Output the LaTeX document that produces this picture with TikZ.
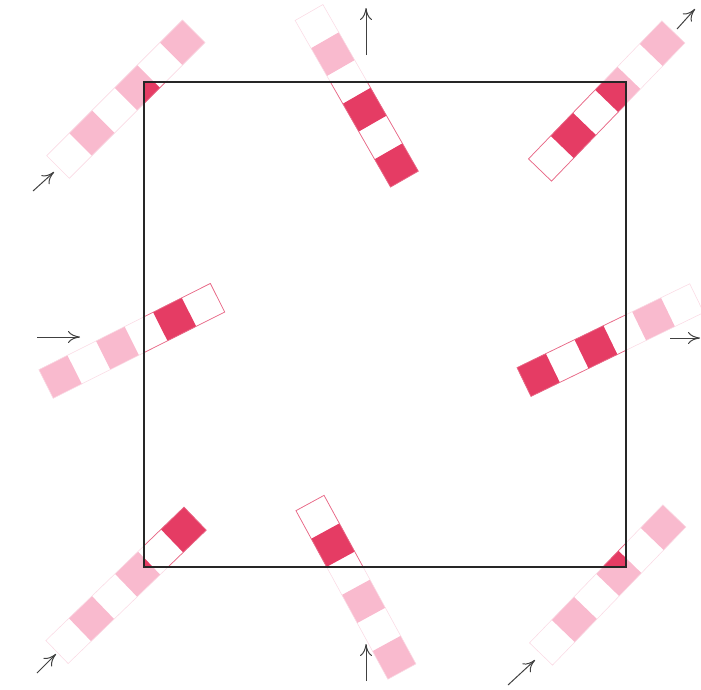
\documentclass[tikz,border=0pt]{standalone}
\usetikzlibrary{arrows.meta}
\definecolor{rodlight}{RGB}{249,186,206}
\definecolor{roddark}{RGB}{229,60,100}
\definecolor{rodline}{RGB}{232,104,134}
\definecolor{rodfaint}{RGB}{250,218,228}
\begin{document}
\begin{tikzpicture}[x=0.25mm,y=-0.25mm,
  move/.style={-{To[length=3mm,width=3mm]},line width=0.7pt,black!75},
  box/.style={line width=1.1pt,black!85}]
\useasboundingbox (0,0) rectangle (701,689);

% start of rod, angle on the page, first coloured cell
\def\rods{58/167/45/1, 309/12.5/-60.2/1, 540/170/46/1, 46/384/26.7/0,
  524/382/25.9/0, 57/652/44/1, 310/503/-61.4/1, 541/654/46/1}

% outside the box
\foreach \x/\y/\a/\o in \rods {
  \begin{scope}[shift={(\x,\y)},rotate=\a,scale=32]
    \foreach \k in {0,2,4}
      \fill[rodlight] (\k+\o,-0.5) rectangle (\k+\o+1,0.5);
    \draw[rodfaint,line width=0.4pt] (0,-0.5) rectangle (6,0.5);
  \end{scope}
}

% inside the box
\begin{scope}
\clip (144,82) rectangle (626,567);
\foreach \x/\y/\a/\o in \rods {
  \begin{scope}[shift={(\x,\y)},rotate=\a,scale=32]
    \foreach \k in {0,2,4}
      \fill[roddark] (\k+\o,-0.5) rectangle (\k+\o+1,0.5);
    \draw[rodline,line width=0.5pt] (0,-0.5) rectangle (6,0.5);
  \end{scope}
}
\end{scope}

\draw[box] (144,82) rectangle (626,567);

\draw[move] (33,191) -- (54,172);
\draw[move] (366,55) -- (366,8);
\draw[move] (677,29) -- (695,9);
\draw[move] (37,337) -- (80,337);
\draw[move] (670,338) -- (700,338);
\draw[move] (37,673) -- (56,654);
\draw[move] (366,681) -- (366,644);
\draw[move] (508,685) -- (535,660);
\end{tikzpicture}
\end{document}
